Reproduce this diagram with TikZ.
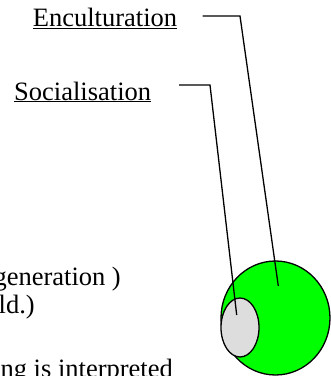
\documentclass[tikz,border=0pt]{standalone}
\usepackage{fontspec}
\setmainfont{Liberation Serif}
\usetikzlibrary{positioning}
\definecolor{enclgreen}{RGB}{0,255,0}
\definecolor{soclgray}{RGB}{221,221,221}
\newcommand{\lblfont}{\fontsize{26.5pt}{31pt}\selectfont}
\tikzset{
  lbl/.style={font=\lblfont, inner sep=0pt, anchor=base west},
  cut/.style={font=\lblfont, inner sep=0pt, anchor=base east},
  lead/.style={black, line width=1.3pt},
  blob/.style={draw=black, line width=1.3pt},
}

\begin{document}
\begin{tikzpicture}[x=1pt, y=-1pt]
    \useasboundingbox (0,0) rectangle (331,376);
    % circles
    \draw[blob, fill=enclgreen] (275.5,318) ellipse (54.5 and 57);
    \draw[blob, fill=soclgray] (240,327.5) ellipse (19 and 29.5);
    % labels
    \node[lbl] (encl) at (32.7,26.7) {\underline{Enculturation}};
    \node[lbl] (socl) at (14,100) {\underline{Socialisation}};
    % leader lines
    \coordinate (enclA) at (202.7,16);
    \coordinate (enclB) at (240,16);
    \coordinate (enclC) at (278.3,286);
    \coordinate (soclA) at (179,85);
    \coordinate (soclB) at (210,85);
    \coordinate (soclC) at (236.7,315);
    \draw[lead] (enclA) -- (enclB) -- (enclC);
    \draw[lead] (soclA) -- (soclB) -- (soclC);
    % cut text on the left
    \node[cut] (txtA) at (121,285) {generation )};
    \node[cut] (txtB) at (35,313) {ld.)};
    \node[cut] (txtC) at (173,377.5) {ing is interpreted};
  \end{tikzpicture}
\end{document}
